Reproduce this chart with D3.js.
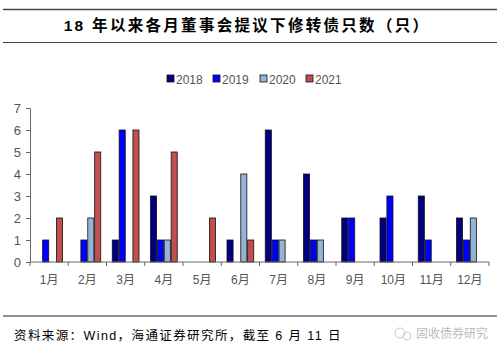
<!DOCTYPE html>
<html><head><meta charset="utf-8">
<script src="https://cdn.jsdelivr.net/npm/d3@7"></script>
<style>body{margin:0;background:#fff}svg{display:block}</style>
</head><body><svg id="c" width="504" height="356"></svg>
<script>
const months = ["1月","2月","3月","4月","5月","6月","7月","8月","9月","10月","11月","12月"];
const seriesNames = ["2018","2019","2020","2021"];
const s2018 = [0,0,1,3,0,1,6,4,2,2,3,2];
const s2019 = [1,1,6,1,0,0,1,1,2,3,1,1];
const s2020 = [0,2,0,1,0,4,1,1,0,0,0,2];
const s2021 = [2,5,6,5,2,1,null,null,null,null,null,null];
const colors = ["#000080","#0000FF","#95B3D7","#C0504D"];
const yTicks = [0,1,2,3,4,5,6,7];
const title = "18 年以来各月董事会提议下修转债只数（只）";
const source = "资料来源：Wind，海通证券研究所，截至 6 月 11 日";

const svg = d3.select("#c");
const font = "Arial, 'Liberation Sans', 'Noto Sans CJK SC', sans-serif";
// header lines
svg.append("line").attr("x1",3).attr("x2",497).attr("y1",9.5).attr("y2",9.5).attr("stroke","#444").attr("stroke-width",1.5);
svg.append("line").attr("x1",3).attr("x2",497).attr("y1",42.5).attr("y2",42.5).attr("stroke","#444").attr("stroke-width",1);
svg.append("text").attr("x",247).attr("y",31).attr("text-anchor","middle")
  .style("font-family","Arial, 'Noto Sans CJK SC', sans-serif").style("font-weight","bold").style("font-size","15.5px")
  .style("letter-spacing","2.3px").attr("fill","#000").text(title);

const x0 = d3.scaleBand().domain(months).range([30,489]).paddingInner(0.28).paddingOuter(0.14);
const x1 = d3.scaleBand().domain(seriesNames).range([0,x0.bandwidth()]);
const y = d3.scaleLinear().domain([0,7]).range([262,108]);

const data = [s2018,s2019,s2020,s2021];
const g = svg.append("g");
seriesNames.forEach((s,i)=>{
  g.selectAll(null).data(months.map((m,j)=>({m,v:data[i][j]})).filter(d=>d.v))
   .enter().append("rect")
   .attr("x",d=>x0(d.m)+x1(s)+0.4).attr("width",x1.bandwidth()-0.8)
   .attr("y",d=>y(d.v)).attr("height",d=>y(0)-y(d.v))
   .attr("fill",colors[i]).attr("stroke","#111").attr("stroke-width",0.8);
});

// y axis
const yAxis = svg.append("g").attr("transform","translate(30,0)")
  .call(d3.axisLeft(y).tickValues(yTicks).tickSize(4).tickPadding(5).tickFormat(d3.format("d")));
yAxis.select(".domain").attr("stroke","#666");
yAxis.selectAll(".tick line").attr("stroke","#666");
yAxis.selectAll("text").style("font-family",font).style("font-size","13px").attr("fill","#555");

// x axis
const xa = svg.append("g").attr("transform","translate(0,262)");
xa.append("line").attr("x1",30).attr("x2",489).attr("stroke","#666");
const bounds = months.map(m=>x0(m)-x0.step()*x0.paddingInner()/2).concat([489]);
xa.selectAll(null).data(bounds).enter().append("line")
  .attr("x1",d=>d).attr("x2",d=>d).attr("y1",0).attr("y2",4).attr("stroke","#666");
xa.selectAll(null).data(months).enter().append("text")
  .attr("x",m=>x0(m)+x0.bandwidth()/2).attr("y",22).attr("text-anchor","middle")
  .style("font-family",font).style("font-size","12px").attr("fill","#555").text(m=>m);

// legend
const legX = [167,213,260,306];
const leg = svg.append("g");
seriesNames.forEach((s,i)=>{
  leg.append("rect").attr("x",legX[i]).attr("y",75).attr("width",7).attr("height",7)
    .attr("fill",colors[i]).attr("stroke","#111").attr("stroke-width",0.8);
  leg.append("text").attr("x",legX[i]+9).attr("y",83.5).style("font-family",font).style("font-size","12px").attr("fill","#555").text(s);
});

// footer
svg.append("line").attr("x1",3).attr("x2",497).attr("y1",316).attr("y2",316).attr("stroke","#222").attr("stroke-width",1);
svg.append("text").attr("x",14).attr("y",340).style("font-family","Arial, 'Noto Sans CJK SC', sans-serif").style("font-size","12.5px")
  .style("letter-spacing","1.4px").attr("fill","#000").text(source);
svg.append("text").attr("x",416).attr("y",338).style("font-family","'Noto Sans CJK SC', sans-serif").style("font-size","12px").attr("fill","#bbb").text("固收债券研究");
svg.append("circle").attr("cx",400).attr("cy",333).attr("r",5).attr("fill","none").attr("stroke","#ccc");
svg.append("circle").attr("cx",407).attr("cy",336).attr("r",4).attr("fill","none").attr("stroke","#ccc");
</script></body></html>
